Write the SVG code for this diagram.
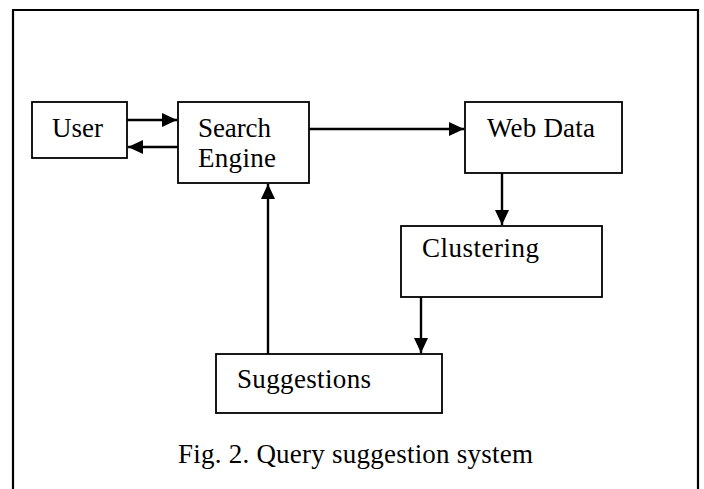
<svg xmlns="http://www.w3.org/2000/svg" width="704" height="489" viewBox="0 0 704 489">
<defs>
<style>
.box{fill:#fff;stroke:#000;stroke-width:1.8}
.lbl{font-family:"Liberation Serif","Times New Roman",serif;font-size:27px;fill:#000}
.con{stroke:#000;stroke-width:2.4;fill:none}
</style>
<marker id="ah" markerUnits="userSpaceOnUse" markerWidth="16" markerHeight="14" refX="15" refY="7" orient="auto">
<polygon points="0,0 15,7 0,14" fill="#000"/>
</marker>
</defs>
<rect width="704" height="489" fill="#fff"/>
<path d="M13,489 V10 H698 V489" fill="none" stroke="#000" stroke-width="2.2"/>
<g id="user"><rect class="box" x="32" y="102" width="95" height="56"/><text class="lbl" x="52" y="137" textLength="51">User</text></g>
<g id="search-engine"><rect class="box" x="178" y="102" width="131" height="81"/><text class="lbl" x="198" y="137" textLength="73">Search</text><text class="lbl" x="198" y="167" textLength="78">Engine</text></g>
<g id="web-data"><rect class="box" x="465" y="102" width="157" height="71"/><text class="lbl" x="487" y="137" textLength="108">Web Data</text></g>
<g id="clustering"><rect class="box" x="401" y="226" width="201" height="71"/><text class="lbl" x="422" y="257" textLength="117">Clustering</text></g>
<g id="suggestions"><rect class="box" x="216" y="354" width="226" height="59"/><text class="lbl" x="237" y="388" textLength="134">Suggestions</text></g>
<g id="connectors">
<line class="con" x1="127" y1="120" x2="177" y2="120" marker-end="url(#ah)"/>
<line class="con" x1="178" y1="147" x2="128" y2="147" marker-end="url(#ah)"/>
<line class="con" x1="309" y1="129" x2="464" y2="129" marker-end="url(#ah)"/>
<line class="con" x1="502" y1="173" x2="502" y2="225" marker-end="url(#ah)"/>
<line class="con" x1="421" y1="297" x2="421" y2="353" marker-end="url(#ah)"/>
<line class="con" x1="268" y1="354" x2="268" y2="184" marker-end="url(#ah)"/>
</g>
<text id="caption" class="lbl" x="178" y="463" textLength="355">Fig. 2. Query suggestion system</text>
</svg>
